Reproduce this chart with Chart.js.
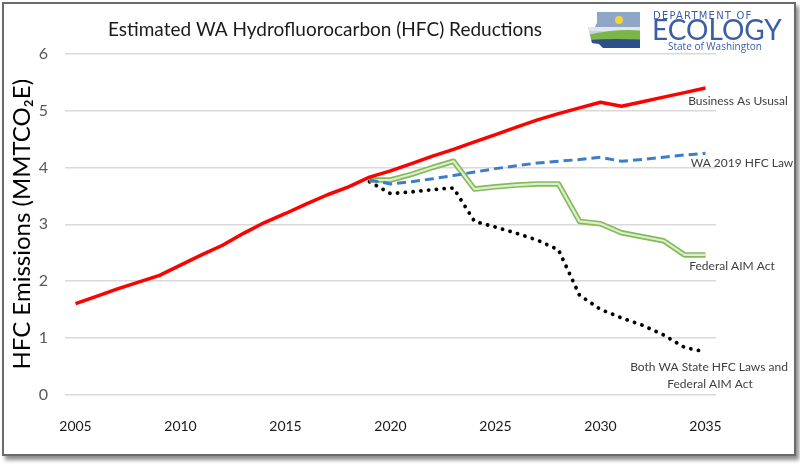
<!DOCTYPE html>
<html>
<head>
<meta charset="utf-8">
<script src="https://cdn.jsdelivr.net/npm/chart.js@4.4.1/dist/chart.umd.min.js"></script>
<style>
  html, body { margin: 0; padding: 0; background: #fff; }
  #wrap { position: relative; width: 800px; height: 464px; overflow: hidden; }
  #frame { position: absolute; left: 2px; top: 2px; width: 790px; height: 450px;
           border: 2px solid #6b6b6b; box-shadow: 3px 4px 4px rgba(0,0,0,0.45); pointer-events: none; }
  canvas { position: absolute; left: 0; top: 0; }
</style>
</head>
<body>
<div id="wrap">
  <canvas id="c" width="800" height="464"></canvas>
  <div id="frame"></div>
</div>
<script>
const years = [];
for (let y = 2005; y <= 2035; y++) years.push(String(y));

const businessAsUsual = [1.60, 1.73, 1.86, 1.98, 2.10, 2.28, 2.46, 2.63, 2.84, 3.03, 3.19, 3.36, 3.52, 3.66, 3.83,
  3.94, 4.07, 4.20, 4.32, 4.45, 4.58, 4.71, 4.84, 4.95, 5.05, 5.15, 5.08, 5.16, 5.24, 5.32, 5.40];

const pre = [null, null, null, null, null, null, null, null, null, null, null, null, null, null];
const wa2019Law = pre.concat([3.78, 3.71, 3.75, 3.80, 3.86, 3.92, 3.98, 4.03, 4.08, 4.11, 4.14, 4.18, 4.11, 4.14, 4.18, 4.22, 4.25]);
const federalAIM = pre.concat([3.78, 3.78, 3.88, 4.00, 4.11, 3.62, 3.66, 3.69, 3.71, 3.71, 3.05, 3.01, 2.85, 2.78, 2.71, 2.46, 2.46]);
const bothLaws = pre.concat([3.75, 3.54, 3.57, 3.61, 3.64, 3.05, 2.95, 2.84, 2.72, 2.55, 1.75, 1.50, 1.35, 1.22, 1.05, 0.83, 0.75]);

const titleText = 'Estimated WA Hydrofluorocarbon (HFC) Reductions';
const yTitle = 'HFC Emissions (MMTCO\u2082E)';
const seriesLabels = [
  { text: 'Business As Ususal', x: 738, y: 101 },
  { text: 'WA 2019 HFC Law', x: 742, y: 163 },
  { text: 'Federal AIM Act', x: 732, y: 266 },
  { text: 'Both WA State HFC Laws and', x: 709, y: 367 },
  { text: 'Federal AIM Act', x: 710, y: 384 }
];

const decor = {
  id: 'decor',
  afterDraw(chart) {
    const ctx = chart.ctx;
    ctx.save();
    // title
    ctx.fillStyle = '#1a1a1a';
    ctx.font = '19px Lato';
    ctx.textAlign = 'center';
    ctx.textBaseline = 'middle';
    ctx.fillText(titleText, 325, 30, 440);

    // series labels
    ctx.fillStyle = '#404040';
    ctx.font = '12px Lato';
    seriesLabels.forEach(l => ctx.fillText(l.text, l.x, l.y));

    // logo shape (simplified Washington state)
    const ox = 587, oy = 11;
    ctx.beginPath();
    ctx.moveTo(ox + 10, oy + 1);
    ctx.lineTo(ox + 53, oy + 1);
    ctx.lineTo(ox + 53, oy + 37);
    ctx.lineTo(ox + 16, oy + 37);
    ctx.lineTo(ox + 12, oy + 33);
    ctx.lineTo(ox + 5, oy + 32);
    ctx.lineTo(ox + 3, oy + 24);
    ctx.lineTo(ox + 1, oy + 16);
    ctx.lineTo(ox + 8, oy + 16);
    ctx.lineTo(ox + 10, oy + 12);
    ctx.closePath();
    ctx.save();
    ctx.clip();
    ctx.fillStyle = '#c9d3df';
    ctx.fillRect(ox, oy, 60, 40);
    ctx.fillStyle = '#8fa6c6';
    ctx.fillRect(ox, oy + 1, 60, 15);
    ctx.fillStyle = '#f3d43a';
    ctx.beginPath(); ctx.arc(ox + 32, oy + 9, 4, 0, Math.PI * 2); ctx.fill();
    ctx.fillStyle = '#dfe6ee';
    ctx.fillRect(ox, oy + 16, 60, 4);
    ctx.fillStyle = '#7ab648';
    ctx.beginPath();
    ctx.moveTo(ox, oy + 24); ctx.quadraticCurveTo(ox + 30, oy + 17, ox + 60, oy + 20);
    ctx.lineTo(ox + 60, oy + 29); ctx.lineTo(ox, oy + 29); ctx.closePath(); ctx.fill();
    ctx.fillStyle = '#2d4f8c';
    ctx.beginPath();
    ctx.moveTo(ox, oy + 29); ctx.quadraticCurveTo(ox + 30, oy + 27, ox + 60, oy + 29);
    ctx.lineTo(ox + 60, oy + 40); ctx.lineTo(ox, oy + 40); ctx.closePath(); ctx.fill();
    ctx.restore();

    // logo text
    ctx.fillStyle = '#3b5ea6';
    ctx.textAlign = 'left';
    ctx.textBaseline = 'alphabetic';
    ctx.font = '10px "DejaVu Sans"';
    if ('letterSpacing' in ctx) ctx.letterSpacing = '1.2px';
    ctx.fillText('DEPARTMENT OF', 653, 19, 132);
    if ('letterSpacing' in ctx) ctx.letterSpacing = '0px';
    ctx.font = '28px Lato';
    ctx.fillText('ECOLOGY', 652, 40, 134);
    ctx.font = '10px "Open Sans"';
    ctx.fillText('State of Washington', 668, 50, 116);
    ctx.restore();
  }
};

new Chart(document.getElementById('c'), {
  type: 'line',
  data: {
    labels: years,
    datasets: [
      { data: businessAsUsual, borderColor: '#ff0000', borderWidth: 3.5, pointRadius: 0, tension: 0, borderJoinStyle: 'round' },
      { data: wa2019Law, borderColor: '#3b7dc9', borderWidth: 3, borderDash: [9, 5], pointRadius: 0, tension: 0 },
      { data: federalAIM, borderColor: '#dcedd0', borderWidth: 2.2, pointRadius: 0, tension: 0, borderJoinStyle: 'round' },
      { data: federalAIM, borderColor: '#84bb58', borderWidth: 5.5, pointRadius: 0, tension: 0, borderJoinStyle: 'round' },
      { data: bothLaws, borderColor: '#000000', borderWidth: 3.8, borderDash: [0.1, 7.7], borderCapStyle: 'round', pointRadius: 0, tension: 0 }
    ]
  },
  options: {
    responsive: false,
    animation: false,
    layout: { padding: { left: 8, top: 54, right: 84, bottom: 29.5 } },
    plugins: { legend: { display: false }, tooltip: { enabled: false }, title: { display: false } },
    scales: {
      x: {
        type: 'category',
        offset: true,
        grid: { display: false },
        border: { display: false },
        ticks: {
          autoSkip: false, maxRotation: 0, padding: 16,
          color: '#1a1a1a', font: { family: 'Lato', size: 14 },
          callback: function (v, i) { const y = +this.getLabelForValue(v); return (y % 5 === 0) ? String(y) : null; }
        },
        afterFit(s) { s.height = 40; }
      },
      y: {
        min: 0, max: 6,
        ticks: { stepSize: 1, padding: 17, color: '#595959', font: { family: 'Lato', size: 16 } },
        grid: { color: '#d9d9d9', lineWidth: 1.5, drawTicks: false },
        border: { display: false },
        title: { display: true, text: yTitle, color: '#000', font: { family: 'Lato', size: 24 }, padding: { top: 0, bottom: 0 } },
        afterFit(s) { s.width = 57; }
      }
    }
  },
  plugins: [decor]
});
</script>
</body>
</html>
